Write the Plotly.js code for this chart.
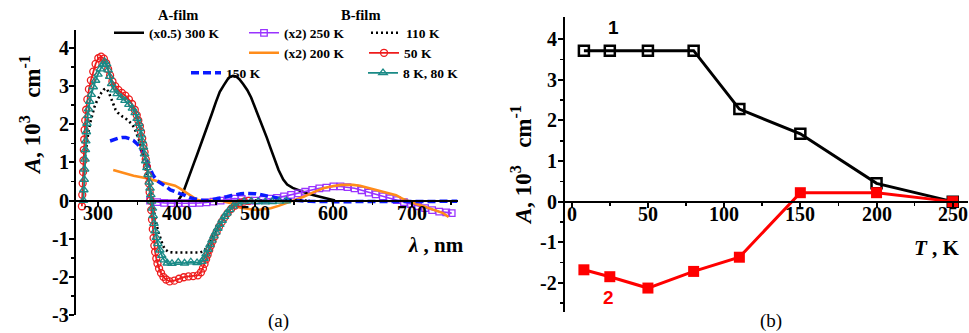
<!DOCTYPE html>
<html><head><meta charset="utf-8">
<script src="https://cdn.plot.ly/plotly-3.0.1.min.js"></script>
<style>html,body{margin:0;padding:0;background:#fff}#c{width:969px;height:333px}</style>
</head><body><div id="c"></div>
<script>
// ---------- Panel (a) data: wavelength (nm) and A (10^3 cm^-1) ----------
const lam300 = [398,402,408,413,417,422,426,430,435,440,445,450,455,460,465,468,472,476,480,485,490,495,500,505,510,515,520,525,530,536,541,548,558,566,575,585,596,602];
const a300   = [-0.05,0.0,0.2,0.5,0.7,0.98,1.2,1.42,1.68,1.98,2.28,2.58,2.85,3.02,3.18,3.24,3.27,3.25,3.18,3.05,2.9,2.7,2.45,2.2,1.92,1.65,1.36,1.08,0.8,0.55,0.42,0.33,0.25,0.19,0.14,0.09,0.04,0.0];

const lam250 = [366,375,384,393,402,411,420,429,438,447,456,465,474,483,492,501,510,519,528,537,546,555,564,573,582,591,600,609,618,627,636,645,654,663,672,681,690,699,708,717,726,735,744,751];
const a250   = [0,-0.04,-0.06,-0.07,-0.07,-0.07,-0.07,-0.06,-0.05,-0.03,0.0,0.03,0.05,0.04,0.0,0.0,0.02,0.05,0.07,0.11,0.15,0.19,0.23,0.28,0.32,0.34,0.37,0.37,0.35,0.32,0.27,0.21,0.16,0.11,0.06,0.01,-0.04,-0.09,-0.15,-0.2,-0.25,-0.29,-0.31,-0.33];

const lam200 = [319,330,345,360,370,380,392,398,404,410,417,422,426,432,440,450,460,470,480,490,498,505,512,520,530,540,550,562,575,587,600,610,617,625,634,645,656,665,672,680,689,697,706,715,728,740,747];
const a200   = [0.8,0.73,0.65,0.59,0.54,0.49,0.44,0.39,0.32,0.24,0.15,0.08,0.02,-0.01,0.0,0.0,-0.02,-0.08,-0.18,-0.22,-0.24,-0.24,-0.22,-0.2,-0.14,-0.07,0.0,0.1,0.22,0.32,0.38,0.41,0.41,0.41,0.39,0.33,0.28,0.24,0.2,0.14,0.04,-0.03,-0.09,-0.15,-0.24,-0.33,-0.43];

const lam150 = [315,320,325,330,335,340,345,350,354,358,362,366,370,375,380,386,392,398,404,410,416,422,428,434,440,446,452,458,464,470,476,482,488,494,500,506,512,518,524,530,540,550,570,600,630,660,690,720,758];
const a150   = [1.56,1.6,1.63,1.65,1.65,1.62,1.57,1.48,1.36,1.2,1.02,0.85,0.66,0.52,0.44,0.37,0.28,0.22,0.18,0.14,0.08,0.05,0.02,0.0,0.0,0.02,0.05,0.08,0.1,0.13,0.16,0.18,0.19,0.19,0.18,0.16,0.14,0.12,0.09,0.06,0.02,0.0,-0.02,-0.03,-0.03,-0.02,-0.02,-0.03,-0.02];

const lam110 = [283,285,287,289.5,292,295,298,301,304,307,310,313,316,319,322,325,328,331,334,337,340,343,346,349,352,355,358,361,364,367,370,373,376,379,382,385,390,395,400,405,410,415,420,425,430,435,440,445,450,455,460,465,470,475,480,485,490,500,510,520,530,540,550,560,570];
const a110   = [1.15,1.5,1.75,2.03,2.25,2.45,2.6,2.72,2.83,2.91,2.94,2.85,2.7,2.5,2.38,2.3,2.24,2.2,2.17,2.12,2.07,2.0,1.9,1.76,1.58,1.36,1.1,0.82,0.5,0.15,-0.2,-0.5,-0.78,-1.0,-1.16,-1.28,-1.35,-1.36,-1.36,-1.36,-1.36,-1.36,-1.36,-1.36,-1.36,-1.32,-1.18,-1.0,-0.82,-0.64,-0.47,-0.33,-0.2,-0.11,-0.06,-0.03,-0.01,0.0,-0.01,0.0,-0.01,0.0,0.0,0.0,0.0];

const lam50 = [279,279.5,280,280.5,281,281.5,282,282.5,283.3,284.5,286,288,290.5,293.5,296.5,300,303.5,307,310,312.5,315,318,321.5,325.5,330,334.5,339,343,346.5,349,351,353,354.5,356,357.5,359,360.5,362,363.5,364.5,365.5,366.5,367.5,368.5,369.5,370.5,371.5,372.5,374,375.5,377.5,380,383,386.5,391,397,403,409,415,421,427,431,433.5,435.5,437.5,439.5,441.5,443.5,445.5,448,451,454,457.5,461,465,469.5,474.5,480,486,492];
const a50   = [-0.15,0.15,0.45,0.75,1.05,1.33,1.6,1.85,2.1,2.38,2.65,2.92,3.15,3.38,3.58,3.73,3.77,3.72,3.6,3.44,3.28,3.12,3.0,2.9,2.82,2.75,2.65,2.53,2.38,2.24,2.1,1.95,1.8,1.63,1.45,1.27,1.08,0.88,0.66,0.45,0.22,0.0,-0.25,-0.5,-0.75,-0.98,-1.18,-1.35,-1.52,-1.65,-1.78,-1.9,-2.0,-2.07,-2.12,-2.1,-2.05,-2.01,-1.99,-1.98,-1.96,-1.88,-1.78,-1.66,-1.54,-1.42,-1.3,-1.18,-1.07,-0.95,-0.82,-0.69,-0.56,-0.44,-0.33,-0.22,-0.13,-0.07,-0.03,-0.01];

const lam8 = [281,281.5,282,282.5,283,283.5,284,284.7,285.5,286.5,287.5,289,291,293.5,296.5,299.5,302.5,305.5,308,310.5,312.5,314.5,317,320,324,329,334,339,343.5,347,349.5,351.5,353,354.5,356,357.5,359,360.5,362,363.5,365,366,367,368,369,370,371,372.5,374,376,378.5,381,384,388,394,402,410,418,426,432,435,437.5,440,442.5,445,447.5,450,452.5,455,458,461,464,467.5,472,478,486,495,504,513,522,531,540];
const a8   = [0.0,0.28,0.55,0.82,1.08,1.33,1.56,1.8,2.02,2.22,2.4,2.6,2.78,2.98,3.15,3.31,3.45,3.56,3.64,3.58,3.42,3.25,3.06,2.9,2.8,2.7,2.62,2.52,2.42,2.3,2.15,2.02,1.88,1.72,1.56,1.4,1.22,1.04,0.86,0.68,0.48,0.32,0.15,-0.02,-0.2,-0.4,-0.6,-0.8,-0.97,-1.13,-1.3,-1.44,-1.56,-1.64,-1.65,-1.62,-1.64,-1.61,-1.63,-1.6,-1.52,-1.4,-1.28,-1.16,-1.04,-0.93,-0.83,-0.73,-0.63,-0.52,-0.42,-0.33,-0.24,-0.15,-0.07,-0.03,-0.02,-0.03,-0.04,-0.03,-0.02,-0.01];

// ---------- Panel (b) data ----------
const tempK = [8,25,50,80,110,150,200,250];
const amp1  = [3.72,3.72,3.72,3.72,2.28,1.67,0.45,0.0];
const amp2  = [-1.68,-1.85,-2.13,-1.72,-1.37,0.22,0.22,0.0];

// ---------- tick labels ----------
const aYTicks = [-3,-2,-1,0,1,2,3,4];
const aYText  = ['-3','-2','-1','0','1','2','3','4'];
const aXTicks = [300,400,500,600,700];
const aXText  = ['300','400','500','600','700'];
const bYTicks = [-2,-1,0,1,2,3,4];
const bYText  = ['-2','-1','0','1','2','3','4'];
const bXTicks = [0,50,100,150,200,250];
const bXText  = ['0','50','100','150','200','250'];
const names = ['(x0.5) 300 K','(x2) 250 K','110 K','(x2) 200 K','50 K','150 K','8 K, 80 K'];

const W = 969, H = 333;
const px = v => v / W, py = v => 1 - v / H;
const SERIF = 'Liberation Serif';
const SANS = 'Liberation Sans';

const traces = [
  {x: lam300, y: a300, mode: 'lines', name: names[0], line: {color: '#000', width: 2.6}, legend: 'legend'},
  {x: lam250, y: a250, mode: 'lines+markers', name: names[1], line: {color: '#9933ff', width: 1.6},
   marker: {symbol: 'square-open', size: 6.5, color: '#9933ff', line: {width: 1.3}}, legend: 'legend2'},
  {x: lam200, y: a200, mode: 'lines', name: names[3], line: {color: '#ff8c1a', width: 2.6}, legend: 'legend4'},
  {x: lam150, y: a150, mode: 'lines', name: names[5], line: {color: '#0a1aff', width: 3.5, dash: '8px,4px'}, legend: 'legend6'},
  {x: lam110, y: a110, mode: 'lines', name: names[2], line: {color: '#000', width: 2.6, dash: '2px,3px'}, legend: 'legend3'},
  {x: lam50, y: a50, mode: 'lines+markers', name: names[4], line: {color: '#ee1c1c', width: 1.8},
   marker: {symbol: 'circle-open', size: 7, color: '#ee1c1c', line: {width: 1.3}}, legend: 'legend5'},
  {x: lam8, y: a8, mode: 'lines+markers', name: names[6], line: {color: '#1a8a86', width: 1.8},
   marker: {symbol: 'triangle-up-open', size: 7.5, color: '#1a8a86', line: {width: 1.3}}, legend: 'legend7'},
  {x: tempK, y: amp1, xaxis: 'x2', yaxis: 'y2', mode: 'lines+markers', showlegend: false,
   line: {color: '#000', width: 3}, marker: {symbol: 'square-open', size: 10, color: '#000', line: {width: 2.5}}},
  {x: tempK, y: amp2, xaxis: 'x2', yaxis: 'y2', mode: 'lines+markers', showlegend: false,
   line: {color: '#ff0000', width: 3}, marker: {symbol: 'square', size: 11, color: '#ff0000'}}
];

const axBase = () => ({showline: true, linecolor: '#000', linewidth: 2, ticks: 'outside', ticklen: 5, tickwidth: 2,
  tickcolor: '#000', showgrid: false, zeroline: false, tickmode: 'array', fixedrange: true, showticklabels: false});
const minorY = () => ({tickmode: 'array', tickvals: [-2.5,-1.5,-0.5,0.5,1.5,2.5,3.5], ticks: 'outside', ticklen: 3, tickwidth: 1.5, tickcolor: '#000'});

function leg(x, y) {
  return {x: px(x), y: py(y), xanchor: 'left', yanchor: 'middle', bgcolor: 'rgba(0,0,0,0)', borderwidth: 0,
    font: {family: SERIF, size: 13.5, color: '#000', weight: 'bold'}, itemwidth: 30, tracegroupgap: 0};
}
function ann(text, x, y, font, extra) {
  return Object.assign({text: text, x: px(x), y: py(y), xref: 'paper', yref: 'paper', xanchor: 'center', yanchor: 'middle', showarrow: false, font: font}, extra || {});
}
const bold = (size, color, fam) => ({family: fam || SERIF, size: size, color: color || '#000', weight: 'bold'});
const tickLabFont = bold(20);

// tick labels placed through the axes' own scales
const tickAnns = [];
aXTicks.forEach((v, i) => tickAnns.push({text: aXText[i], x: v, xref: 'x', y: py(213), yref: 'paper', xanchor: 'center', yanchor: 'middle', showarrow: false, font: tickLabFont}));
aYTicks.forEach((v, i) => tickAnns.push({text: aYText[i], x: px(71), xref: 'paper', y: v, yref: 'y', xanchor: 'right', yanchor: 'middle', showarrow: false, font: tickLabFont}));
bXTicks.forEach((v, i) => tickAnns.push({text: bXText[i], x: v, xref: 'x2', y: py(214), yref: 'paper', xanchor: 'center', yanchor: 'middle', showarrow: false, font: tickLabFont}));
bYTicks.forEach((v, i) => tickAnns.push({text: bYText[i], x: px(559), xref: 'paper', y: v, yref: 'y2', xanchor: 'right', yanchor: 'middle', showarrow: false, font: tickLabFont}));

const layout = {
  width: W, height: H, margin: {l: 0, r: 0, t: 0, b: 0}, paper_bgcolor: '#fff', plot_bgcolor: 'rgba(0,0,0,0)',
  font: {family: SERIF, color: '#000'},
  showlegend: true,
  xaxis: Object.assign(axBase(), {domain: [px(76), px(458)], range: [271.5, 759], anchor: 'free', position: py(200.7),
    tickvals: aXTicks, minor: {tickmode: 'array', tickvals: [350,450,550,650,750], ticks: 'outside', ticklen: 3, tickwidth: 1.5, tickcolor: '#000'}}),
  yaxis: Object.assign(axBase(), {domain: [py(315), py(30)], range: [-3, 4.47], anchor: 'x',
    tickvals: aYTicks, minor: minorY()}),
  xaxis2: Object.assign(axBase(), {domain: [px(565), px(968)], range: [-4.4, 260], anchor: 'free', position: py(201.7),
    tickvals: bXTicks, minor: {tickmode: 'array', tickvals: [25,75,125,175,225], ticks: 'outside', ticklen: 3, tickwidth: 1.5, tickcolor: '#000'}}),
  yaxis2: Object.assign(axBase(), {domain: [py(312), py(17)], range: [-2.72, 4.55], anchor: 'x2',
    tickvals: bYTicks, minor: minorY()}),
  legend: leg(109, 33), legend2: leg(244, 33), legend3: leg(366, 33),
  legend4: leg(244, 53), legend5: leg(364, 53), legend6: leg(186, 73), legend7: leg(363, 73),
  annotations: tickAnns.concat([
    ann('A-film', 178, 15, bold(14.5)),
    ann('B-film', 360, 15, bold(14.5)),
    ann('<i>A</i>, 10<sup>3</sup>   cm<sup>-1</sup>', 30, 115, bold(23), {textangle: -90}),
    ann('<i>A</i>, 10<sup>3</sup>   cm<sup>-1</sup>', 521, 165, bold(23), {textangle: -90}),
    ann('<i>λ</i> , nm', 436, 245, bold(21)),
    ann('<i>T</i> , K', 937, 248, bold(21)),
    ann('(a)', 278, 321, {family: SERIF, size: 19, color: '#000'}),
    ann('(b)', 771, 321, {family: SERIF, size: 19, color: '#000'}),
    ann('1', 613, 28, bold(19, '#000', SANS)),
    ann('2', 608, 297, bold(19, '#ff0000', SANS))
  ])
};

Plotly.newPlot('c', traces, layout, {staticPlot: true, displayModeBar: false});
</script>
</body></html>
